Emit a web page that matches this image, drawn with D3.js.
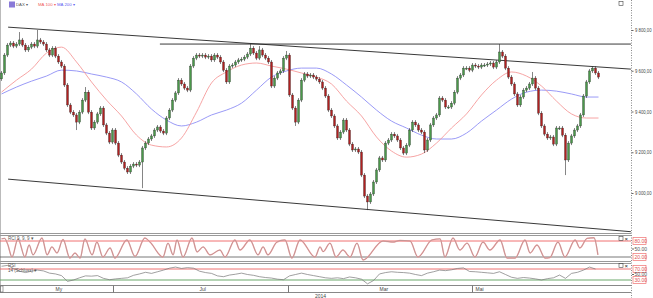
<!DOCTYPE html>
<html>
<head>
<meta charset="utf-8">
<script src="https://cdn.jsdelivr.net/npm/d3@7"></script>
<style>
body { margin: 0; background: #fff; }
svg { display: block; font-family: "Liberation Sans", Arial, sans-serif; }
</style>
</head>
<body>
<svg id="svg1" width="653" height="298"></svg>
<script>
// closing prices, one per candle
var closes = [
  9589, 9677, 9726, 9736, 9721, 9731, 9751, 9726, 9702, 9716,
  9731, 9721, 9751, 9741, 9731, 9702, 9677, 9711, 9672, 9643,
  9623, 9530, 9432, 9397, 9383, 9348, 9397, 9456, 9495, 9397,
  9319, 9348, 9388, 9417, 9334, 9294, 9250, 9309, 9245, 9186,
  9152, 9122, 9103, 9132, 9142, 9137, 9152, 9221, 9245, 9265,
  9280, 9309, 9324, 9304, 9294, 9368, 9407, 9456, 9491, 9554,
  9535, 9515, 9505, 9623, 9662, 9677, 9672, 9677, 9667, 9672,
  9653, 9677, 9667, 9643, 9603, 9545, 9623, 9628, 9643, 9653,
  9657, 9667, 9682, 9711, 9687, 9662, 9702, 9677, 9662, 9643,
  9525, 9564, 9589, 9599, 9662, 9677, 9481, 9417, 9348, 9456,
  9554, 9584, 9574, 9579, 9569, 9559, 9545, 9515, 9476, 9407,
  9378, 9329, 9270, 9299, 9358, 9309, 9240, 9211, 9216, 9201,
  9088, 8985, 8956, 8995, 9054, 9113, 9172, 9162, 9245, 9260,
  9289, 9280, 9260, 9221, 9196, 9235, 9309, 9348, 9334, 9309,
  9299, 9211, 9260, 9334, 9368, 9383, 9466, 9456, 9422, 9422,
  9441, 9495, 9564, 9579, 9613, 9613, 9603, 9628, 9623, 9618,
  9628, 9628, 9633, 9638, 9618, 9643, 9692, 9672, 9613, 9569,
  9535, 9486, 9432, 9471, 9505, 9515, 9535, 9564, 9515, 9392,
  9329, 9289, 9270, 9275, 9240, 9319, 9319, 9284, 9162, 9245,
  9280, 9309, 9329, 9383, 9476, 9545, 9599, 9613, 9589, 9569
];
var firstOpen = 9560;

// long wicks that stand out in the picture (candle index -> price)
var wickHigh = { 6: 9790, 12: 9800, 28: 9520, 83: 9731, 86: 9721, 95: 9697, 166: 9731, 177: 9594 };
var wickLow = { 25: 9309, 47: 9024, 98: 9329, 122: 8916, 141: 9196, 188: 9088 };

// moving averages, read every 5th candle (last one at the final candle)
var ma100 = [
  9495, 9554, 9608, 9687, 9716, 9643, 9545, 9456, 9378, 9284,
  9235, 9226, 9270, 9397, 9540, 9594, 9628, 9638, 9623, 9608,
  9589, 9569, 9535, 9451, 9378, 9275, 9206, 9176, 9191, 9245,
  9319, 9388, 9481, 9554, 9594, 9574, 9525, 9451, 9388, 9368, 9368
];
var ma200 = [
  9486, 9520, 9549, 9574, 9603, 9599, 9584, 9569, 9545, 9486,
  9412, 9358, 9329, 9348, 9383, 9407, 9441, 9505, 9569, 9599,
  9613, 9613, 9584, 9530, 9471, 9407, 9353, 9319, 9284, 9265,
  9265, 9294, 9353, 9407, 9461, 9495, 9505, 9500, 9486, 9471, 9471
];

// oscillator turning points (candle index, value)
var rciAt = [0, 1, 2, 3.5, 5.5, 7.8, 9.2, 10.5, 13.5, 15.2, 16.8, 18.5, 20.5, 22.8, 24.5, 26.2,
  27.8, 30.2, 31.8, 33.8, 36.2, 37.8, 41.8, 44.5, 47.8, 49.5, 53.8, 55.5, 57.2, 58.5, 60.5,
  63.5, 65.2, 67.2, 69.5, 72.8, 74.5, 77.8, 79.5, 82.8, 85.5, 87.2, 88.8, 91.8, 94.5, 96.8,
  99.5, 104.5, 106.2, 107.2, 109.5, 111.5, 113.8, 116.2, 118.5, 120.5, 127.2, 130.5, 132.8,
  136.2, 138.8, 143.5, 146.2, 147.8, 150.5, 152.8, 155.2, 157.8, 160.5, 162.8, 166.2, 168.5,
  171.2, 174.5, 176.2, 178.5, 181.2, 182.8, 185.5, 187.8, 191.2, 192.8, 195.2, 197.5, 198.8];
var rciVal = [88, 90, 70, 20, 88, 20, 65, 28, 91, 28, 58, 35, 86, 16, 35, 16,
  88, 28, 76, 20, 54, 16, 84, 22, 91, 76, 20, 72, 28, 84, 20,
  91, 39, 58, 28, 46, 20, 84, 46, 84, 28, 58, 28, 76, 84, 16,
  84, 20, 58, 40, 72, 20, 46, 20, 72, 9, 80, 76, 82,
  80, 20, 84, 88, 20, 91, 46, 72, 20, 76, 46, 84, 16,
  16, 84, 35, 65, 16, 18, 76, 20, 84, 54, 90, 92, 28];

// RSI, every 2nd candle
var rsi = [
  80, 83, 72, 62, 57, 62, 66, 63, 55, 52, 46, 25, 30, 38, 45, 44, 46, 36, 31, 34,
  36, 38, 47, 52, 58, 54, 60, 66, 73, 77, 72, 75, 73, 62, 57, 54, 45, 42, 48, 51,
  55, 50, 47, 42, 39, 37, 33, 31, 45, 50, 55, 50, 46, 42, 38, 36, 38, 35, 41, 38,
  33, 16, 28, 52, 57, 60, 58, 57, 55, 50, 46, 55, 60, 66, 64, 67, 72, 74, 61, 60,
  58, 56, 54, 60, 50, 40, 36, 39, 37, 34, 30, 35, 38, 48, 36, 54, 58, 66, 77, 70
];

// channel lines: [candle index, price] pairs
var trendLines = [
  [[2.2, 9814], [209.8, 9608]],
  [[52.8, 9731], [209.8, 9731]],
  [[2.2, 9068], [209.8, 8810]]
];

var yTicks = [9000, 9200, 9400, 9600, 9800];
var timeLabels = ["My", "Jul", "Mar", "Mai"];
var timeLabelAt = [18, 66, 126, 158];
var timeBreaks = [37.2, 95.5, 156.8];
var yearLabel = "2014";
var yearAt = 104.5;

var width = 653, height = 298;
var axisX = 631;

var svg = d3.select('svg');

var x = d3.scaleLinear().domain([0, 199]).range([1.5, 598.5]);
var y = d3.scaleLinear().domain([9000, 9800]).range([193, 30]);
var yRci = d3.scaleLinear().domain([20, 80]).range([257, 241]);
var yRsi = d3.scaleLinear().domain([30, 70]).range([280, 269]);

// frame lines
svg.append("line").attr("x1", 0.5).attr("x2", 0.5).attr("y1", 0).attr("y2", 292)
   .attr("stroke", "#bbb").attr("stroke-width", 1);
[233.5, 235.5, 261.5, 263.5].forEach(function(py) {
  svg.append("line").attr("x1", 0).attr("x2", axisX).attr("y1", py).attr("y2", py)
     .attr("stroke", "#999");
});

// trend lines
svg.append("g").selectAll("line")
   .data(trendLines)
   .enter()
   .append("line")
   .attr("x1", function(d) { return x(d[0][0]); })
   .attr("y1", function(d) { return y(d[0][1]); })
   .attr("x2", function(d) { return x(d[1][0]); })
   .attr("y2", function(d) { return y(d[1][1]); })
   .attr("stroke", "#222")
   .attr("stroke-width", 0.9);

// moving averages
var maAt = d3.range(0, 200, 5).concat([199]);
var maLine = function(vals) {
  return d3.line()
    .x(function(d, i) { return x(maAt[i]); })
    .y(function(d) { return y(d); })
    .curve(d3.curveMonotoneX)(vals);
};
svg.append("path").attr("d", maLine(ma200)).attr("fill", "none")
   .attr("stroke", "#8f8ff5").attr("stroke-width", 0.9);
svg.append("path").attr("d", maLine(ma100)).attr("fill", "none")
   .attr("stroke", "#f59a9a").attr("stroke-width", 0.9);

// candles
var candles = closes.map(function(c, i) {
  var o = i ? closes[i - 1] : firstOpen;
  return { i: i, o: o, c: c };
});

var cg = svg.append("g").attr("class", "candles");
cg.selectAll("line")
  .data(candles)
  .enter()
  .append("line")
  .attr("x1", function(d) { return x(d.i); })
  .attr("x2", function(d) { return x(d.i); })
  .attr("y1", function(d) {
    return wickHigh[d.i] ? y(wickHigh[d.i]) : y(Math.max(d.o, d.c)) - 2;
  })
  .attr("y2", function(d) {
    return wickLow[d.i] ? y(wickLow[d.i]) : y(Math.min(d.o, d.c)) + 2;
  })
  .attr("stroke", "#333")
  .attr("stroke-width", 0.6);

cg.selectAll("rect")
  .data(candles)
  .enter()
  .append("rect")
  .attr("x", function(d) { return x(d.i) - 1; })
  .attr("width", 2)
  .attr("y", function(d) { return y(Math.max(d.o, d.c)); })
  .attr("height", function(d) { return Math.max(1, Math.abs(y(d.o) - y(d.c))); })
  .attr("fill", function(d) { return d.c >= d.o ? "#4a984a" : "#b02020"; })
  .attr("stroke", "#1a1a1a")
  .attr("stroke-width", 0.3);

// right price axis
var fmtPrice = d3.formatLocale({ decimal: ",", thousands: " ", grouping: [3], currency: ["", ""] })
                 .format(",.2f");
svg.append("line").attr("x1", axisX + 0.5).attr("x2", axisX + 0.5).attr("y1", 0).attr("y2", height)
   .attr("stroke", "#888").attr("stroke-dasharray", "1,1.5");

var yAxis = svg.append("g")
   .attr("transform", "translate(" + (axisX + 0.5) + ",0)")
   .call(d3.axisRight(y).tickValues(yTicks).tickSize(2).tickPadding(1.5).tickFormat(fmtPrice));
yAxis.select(".domain").remove();
yAxis.selectAll("line").attr("stroke", "#666");
yAxis.selectAll("text")
   .attr("font-size", "5px")
   .attr("fill", "#444")
   .attr("textLength", 16.5)
   .attr("lengthAdjust", "spacingAndGlyphs");

// RCI pane
svg.append("line").attr("x1", 0).attr("x2", axisX).attr("y1", yRci(80)).attr("y2", yRci(80))
   .attr("stroke", "#f07070").attr("stroke-width", 1);
svg.append("line").attr("x1", 0).attr("x2", axisX).attr("y1", yRci(20)).attr("y2", yRci(20))
   .attr("stroke", "#555").attr("stroke-width", 0.8);
var rciPath = d3.line()
   .x(function(d, i) { return x(rciAt[i]); })
   .y(function(d) { return yRci(d); })
   .curve(d3.curveMonotoneX)(rciVal);
svg.append("path").attr("d", rciPath).attr("fill", "none")
   .attr("stroke", "#f4a0a0").attr("stroke-width", 1.4);
svg.append("path").attr("d", rciPath).attr("fill", "none")
   .attr("stroke", "#888").attr("stroke-width", 0.45);

// RSI pane
svg.append("line").attr("x1", 0).attr("x2", axisX).attr("y1", yRsi(70)).attr("y2", yRsi(70))
   .attr("stroke", "#f07070").attr("stroke-width", 1);
svg.append("line").attr("x1", 0).attr("x2", axisX).attr("y1", yRsi(30)).attr("y2", yRsi(30))
   .attr("stroke", "#6aa86a").attr("stroke-width", 1);
svg.append("path")
   .attr("d", d3.line()
      .x(function(d, i) { return x(i * 2); })
      .y(function(d) { return yRsi(d); })(rsi))
   .attr("fill", "none").attr("stroke", "#777").attr("stroke-width", 0.7);

// pane labels on the right
var fmt2 = d3.format(".2f");
var paneLabels = [
  { v: 80, s: yRci, box: true }, { v: 50, s: yRci, box: false }, { v: 20, s: yRci, box: true },
  { v: 70, s: yRsi, box: true }, { v: 50, s: yRsi, box: false }, { v: 30, s: yRsi, box: true }
];
var pl = svg.append("g").selectAll("g").data(paneLabels).enter().append("g")
   .attr("transform", function(d) { return "translate(" + (axisX + 1) + "," + d.s(d.v) + ")"; });
pl.filter(function(d) { return d.box; }).append("rect")
   .attr("x", 1).attr("y", -3.5).attr("width", 13).attr("height", 7)
   .attr("fill", "#fff").attr("stroke", "#f07070").attr("stroke-width", 0.7);
pl.filter(function(d) { return !d.box; }).append("line")
   .attr("x1", 0).attr("x2", 2).attr("stroke", "#666");
pl.append("text")
   .attr("x", 2.5).attr("dy", "0.35em")
   .attr("font-size", "5px")
   .attr("fill", function(d) { return d.box ? "#e05050" : "#555"; })
   .text(function(d) { return fmt2(d.v); });

// small pane buttons
[239, 266].forEach(function(py) {
  svg.append("rect").attr("x", 619).attr("y", py - 2.5).attr("width", 4).attr("height", 4)
     .attr("fill", "none").attr("stroke", "#444").attr("stroke-width", 0.6);
  svg.append("text").attr("x", 624.5).attr("y", py + 1.8).attr("font-size", "6px")
     .attr("fill", "#222").text("×");
});
svg.append("rect").attr("x", 619).attr("y", 1.5).attr("width", 4).attr("height", 4)
   .attr("fill", "none").attr("stroke", "#444").attr("stroke-width", 0.6);

// time axis
svg.append("line").attr("x1", 0).attr("x2", axisX).attr("y1", 285.5).attr("y2", 285.5).attr("stroke", "#888");
svg.append("line").attr("x1", 0).attr("x2", axisX).attr("y1", 292.5).attr("y2", 292.5).attr("stroke", "#888");
svg.append("rect").attr("x", 0.5).attr("y", 286).attr("width", 2.5).attr("height", 6)
   .attr("fill", "none").attr("stroke", "#666").attr("stroke-width", 0.6);
svg.append("g").selectAll("line").data(timeBreaks).enter().append("line")
   .attr("x1", function(d) { return Math.round(x(d)) + 0.5; })
   .attr("x2", function(d) { return Math.round(x(d)) + 0.5; })
   .attr("y1", 285.5).attr("y2", 292.5).attr("stroke", "#777");
svg.append("g").selectAll("text").data(timeLabels).enter().append("text")
   .attr("x", function(d, i) { return x(timeLabelAt[i]); })
   .attr("y", 291)
   .attr("font-size", "5px")
   .attr("fill", "#444")
   .text(function(d) { return d; });
svg.append("text").attr("x", x(yearAt)).attr("y", 297.5)
   .attr("font-size", "5px").attr("fill", "#444").text(yearLabel);

// pane titles
svg.append("text").attr("x", 8).attr("y", 240).attr("font-size", "4.5px").attr("fill", "#555")
   .text("RCI 9, 9, 9 ▾");
svg.append("text").attr("x", 8).attr("y", 267).attr("font-size", "4.5px").attr("fill", "#555")
   .text("RSI");
svg.append("text").attr("x", 8).attr("y", 271.5).attr("font-size", "4.5px").attr("fill", "#555")
   .text("14 (Schluss) ▾");

// legend
svg.append("rect").attr("x", 9).attr("y", 1.5).attr("width", 6).attr("height", 6)
   .attr("fill", "#8a7ad8");
svg.append("text").attr("x", 16).attr("y", 6.2).attr("font-size", "4.3px").attr("fill", "#555").text("DAX ▾");
svg.append("text").attr("x", 38).attr("y", 6.2).attr("font-size", "4.3px").attr("fill", "#f06060").text("MA 100 ▾");
svg.append("text").attr("x", 57).attr("y", 6.2).attr("font-size", "4.3px").attr("fill", "#6060f0").text("MA 200 ▾");
</script>
</body>
</html>
